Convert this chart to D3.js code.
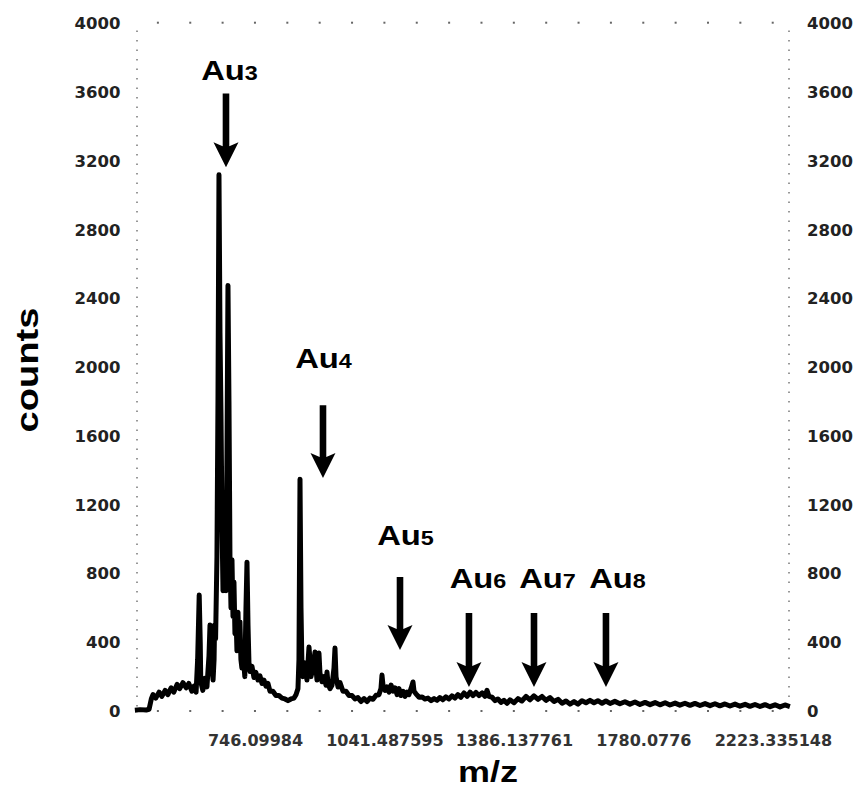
<!DOCTYPE html>
<html>
<head>
<meta charset="utf-8">
<script src="https://cdn.jsdelivr.net/npm/d3@7"></script>
<style>
  body { margin: 0; background: #fff; }
  svg { display: block; }
</style>
</head>
<body>
<div id="container"></div>
<script>
const spectrum = [
  [516,5],[525,8],[536,6],[541,10],[545,70],[548,95],[553,75],[559,110],[564,85],[570,120],
  [575,95],[581,135],[586,110],[592,155],[597,130],[603,165],[609,135],[614,160],[620,115],[624,145],
  [628,110],[631,300],[634,675],[636,400],[637,170],[641,120],[645,190],[649,140],[653,320],[655,500],
  [657,480],[659,250],[661,180],[663,300],[664,500],[666,420],[668.7,900],[670.7,1800],[672.7,3120],[674.7,2200],
  [676.7,1730],[678.7,1100],[680.7,700],[682.7,1210],[684.7,900],[686.7,700],[688.7,1500],[690.7,2475],[692.7,1800],[694.7,900],
  [696.8,600],[698.8,880],[700.8,550],[702.8,750],[704.8,450],[706.9,560],[708.9,350],[711,575],[713,380],[715,520],
  [717,300],[719,250],[721,380],[723,280],[725,200],[727.4,600],[729.5,866],[731.6,500],[733.6,280],[735.7,230],
  [739.8,260],[744,195],[748,225],[752.4,180],[756.6,205],[760.8,160],[765,180],[769.3,145],[773.5,160],[777.8,115],
  [784,115],[790.6,90],[797,90],[803.7,75],[810.2,70],[816.8,60],[823.4,70],[830,75],[834.4,95],[838.8,130],
  [841,300],[843.3,1349],[845.5,600],[847.7,250],[850,200],[854.4,280],[858.8,180],[863.4,372],[865.6,300],[867.9,200],
  [872.4,250],[877,343],[879.2,250],[881.5,180],[886,337],[888.3,220],[892.9,170],[897.5,200],[902.1,150],[904.4,227],
  [906.7,160],[911.3,130],[916,150],[920.6,250],[922.9,366],[925.3,200],[930,140],[934.6,165],[941.6,115],[948.7,115],
  [955.8,90],[963,90],[970,70],[977,78],[984.4,55],[991.7,72],[999,55],[1006,75],[1013.5,68],[1021,92],
  [1028,95],[1033,130],[1035.5,209],[1038,150],[1043,120],[1048,140],[1053,110],[1058,151],[1063,115],[1068,135],
  [1073,95],[1078,130],[1083,90],[1088,115],[1093,85],[1098,110],[1103,95],[1108.3,130],[1113.4,169],[1116,115],
  [1121,100],[1129,80],[1137,82],[1144,70],[1152,75],[1160,60],[1168,72],[1176,62],[1183,78],[1191,65],
  [1199,82],[1207,70],[1215,88],[1223,75],[1231,95],[1239,80],[1247.6,105],[1256,85],[1264,110],[1272,90],
  [1280,108],[1288.5,90],[1297,105],[1305,85],[1310.5,120],[1316,85],[1324.6,80],[1333,60],[1341,70],[1349.6,50],
  [1358,62],[1366.6,45],[1375,65],[1386.5,48],[1398,72],[1409,58],[1421,85],[1432.5,65],[1444,88],[1456,68],
  [1467.5,85],[1479,62],[1491,78],[1503,55],[1515,68],[1527,45],[1538.8,58],[1550.8,40],[1563,55],[1575,40],
  [1587,60],[1599.4,48],[1611.7,62],[1624,48],[1636,60],[1649,45],[1661,58],[1674,44],[1689,56],[1705,42],
  [1721,54],[1737,40],[1753,52],[1769,38],[1785.5,50],[1801.7,37],[1818,49],[1834,36],[1851,48],[1867,35],
  [1884,46],[1900,34],[1917,45],[1934,33],[1950.6,44],[1967.7,32],[1985,43],[2002,31],[2019,42],[2036,30],
  [2053.5,41],[2071,29],[2088.5,40],[2106,28],[2124,39],[2141,27],[2159,38],[2177,26],[2195,37],[2213,25],
  [2231,36],[2249,24],[2267,35],[2285,26]
];

// tick labels on both count axes
const yTicks = [0, 400, 800, 1200, 1600, 2000, 2400, 2800, 3200, 3600, 4000];
// tick labels on the m/z axis, written the way the instrument printed them
const xTickLabels = ["746.09984", "1041.487595", "1386.137761", "1780.0776", "2223.335148"];

// the gold cluster arrows : where the arrow points (m/z, counts top -> tip) and where its label sits
const peakNames = ["3", "4", "5", "6", "7", "8"];
const arrowMz = [686.7, 895.2, 1080.4, 1261, 1444.1, 1661.2];
const arrowTop = [3593, 1779, 779, 570, 570, 570];
const arrowTip = [3163, 1355, 355, 140, 140, 140];
const labelMz = [693.7, 896.4, 1094.2, 1285.7, 1483.6, 1697.4];
const labelCounts = [3669, 1994, 965, 715, 715, 715];

// small wrapper so nothing floats around globally
const MS = {};
MS.W = 857;
MS.H = 789;
MS.tickFont = "'DejaVu Sans', sans-serif";
MS.titleFont = "'Liberation Sans', Arial, sans-serif";

// time of flight spectrum so m/z goes as a square root across the page
MS.x = d3.scalePow().exponent(0.5).domain([519.7, 2285.4]).range([137, 790]);
MS.y = d3.scaleLinear().domain([0, 4000]).range([711, 23.5]);

MS.svg = d3.create("svg")
  .attr("width", MS.W)
  .attr("height", MS.H)
  .attr("viewBox", `0 0 ${MS.W} ${MS.H}`);
document.getElementById("container").append(MS.svg.node());

MS.svg.append("rect").attr("width", MS.W).attr("height", MS.H).attr("fill", "#fff");

// dotted side frames
[137, 789].forEach(function (xx) {
  MS.svg.append("line")
    .attr("x1", xx).attr("x2", xx)
    .attr("y1", MS.y(4000) + 7).attr("y2", MS.y(0))
    .attr("stroke", "#777")
    .attr("stroke-width", 1.5)
    .attr("stroke-dasharray", "1.5 8");
});

// little tick dots on top and bottom, 4 between every labelled tick (in sqrt space)
MS.sq = xTickLabels.map(d => Math.sqrt(+d));
MS.step = (MS.sq[1] - MS.sq[0]) / 4;
MS.minor = d3.range(-3, 17).map(k => Math.pow(MS.sq[0] + k * MS.step, 2));
[MS.y(4000) - 0.8, MS.y(0)].forEach(function (yy) {
  MS.svg.append("g").selectAll("rect")
    .data(MS.minor.filter(d => MS.x(d) > 140 && MS.x(d) < 786))
    .join("rect")
    .attr("x", d => MS.x(d) - 1)
    .attr("y", yy - 1)
    .attr("width", 2)
    .attr("height", 2)
    .attr("fill", "#666");
});

// count axes on both sides
MS.styleAxis = function (g) {
  g.select(".domain").remove();
  g.selectAll("text")
    .attr("font-family", MS.tickFont)
    .attr("font-weight", "bold")
    .attr("font-size", "16.5px")
    .attr("fill", "#222");
};
MS.svg.append("g")
  .attr("transform", "translate(137,0)")
  .call(d3.axisLeft(MS.y).tickValues(yTicks).tickSize(0).tickPadding(16.5).tickFormat(d3.format("d")))
  .call(MS.styleAxis);
MS.svg.append("g")
  .attr("transform", "translate(790,0)")
  .call(d3.axisRight(MS.y).tickValues(yTicks).tickSize(0).tickPadding(17).tickFormat(d3.format("d")))
  .call(MS.styleAxis);

// m/z axis
MS.svg.append("g")
  .attr("transform", `translate(0,${MS.y(0)})`)
  .call(d3.axisBottom(MS.x).tickValues(xTickLabels.map(Number)).tickSize(0).tickPadding(24)
    .tickFormat((d, i) => xTickLabels[i]))
  .call(MS.styleAxis)
  .selectAll("text").attr("font-size", "16px").attr("fill", "#333");

// the trace itself, it is drawn quite fat in the original
MS.line = d3.line().x(d => MS.x(d[0])).y(d => MS.y(d[1]));
MS.svg.append("path")
  .datum(spectrum)
  .attr("d", MS.line)
  .attr("fill", "none")
  .attr("stroke", "#000")
  .attr("stroke-width", 5)
  .attr("stroke-linejoin", "round");

// arrows pointing at the clusters
MS.arrow = function (cx, top, tip) {
  const hw = 3.3, bw = 12.5, hh = 25;
  return `M${cx - hw},${top} L${cx + hw},${top} L${cx + hw},${tip - hh + 4} L${cx + bw},${tip - hh}
    L${cx},${tip} L${cx - bw},${tip - hh} L${cx - hw},${tip - hh + 4} Z`;
};
MS.svg.append("g").selectAll("path")
  .data(peakNames)
  .join("path")
  .attr("d", (d, i) => MS.arrow(MS.x(arrowMz[i]), MS.y(arrowTop[i]), MS.y(arrowTip[i])))
  .attr("fill", "#000");

// Au_n labels, the font in the picture is a bit stretched sideways
MS.labels = MS.svg.append("g").selectAll("g")
  .data(peakNames)
  .join("g")
  .attr("transform", (d, i) => `translate(${MS.x(labelMz[i])},${MS.y(labelCounts[i])}) scale(1.17,1)`);
MS.labels.append("text")
  .attr("text-anchor", "middle")
  .attr("font-family", MS.titleFont)
  .attr("font-weight", "bold")
  .attr("font-size", "28px")
  .attr("fill", "#000")
  .each(function (d) {
    const t = d3.select(this);
    t.append("tspan").text("Au");
    t.append("tspan").attr("font-size", "20px").text(d);
  });

// axis titles
MS.svg.append("g")
  .attr("transform", "translate(38,370) rotate(-90) scale(1.19,1)")
  .append("text")
  .attr("text-anchor", "middle")
  .attr("font-family", MS.titleFont)
  .attr("font-weight", "bold")
  .attr("font-size", "32px")
  .attr("fill", "#000")
  .text("counts");

// m/z sits very close to the bottom edge, kept a hair higher so it is not clipped
MS.svg.append("g")
  .attr("transform", "translate(488,782) scale(1.2,1)")
  .append("text")
  .attr("text-anchor", "middle")
  .attr("font-family", MS.titleFont)
  .attr("font-weight", "bold")
  .attr("font-size", "30px")
  .attr("fill", "#000")
  .text("m/z");
</script>
</body>
</html>
